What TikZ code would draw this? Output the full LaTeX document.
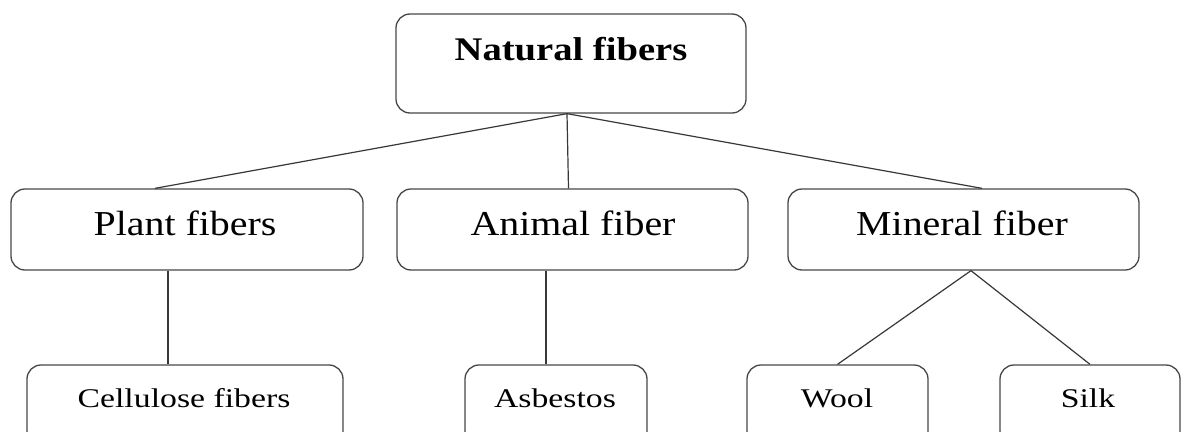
\documentclass[tikz,border=0pt]{standalone}
\usepackage{fontspec}
\usepackage{graphicx}
\setmainfont{Liberation Serif}
\usetikzlibrary{calc}
\tikzset{
  box/.style={draw=black!72, line width=1.3pt, rounded corners=14pt, rectangle, inner sep=0pt},
  conn/.style={draw=black!78, line width=1.2pt},
  lbl/.style={anchor=base, inner sep=0pt, text=black}
}
\newcommand{\topfont}{\fontsize{33}{36}\selectfont\bfseries}
\newcommand{\midfont}{\fontsize{35}{38}\selectfont}
\newcommand{\lowfont}{\fontsize{27}{30}\selectfont}
\begin{document}
\begin{tikzpicture}[x=1pt,y=-1pt]
\useasboundingbox (0,0) rectangle (1183,431);
\clip (0,0) rectangle (1183,431);
\fill[white] (0,0) rectangle (1183,431);
% boxes
\node[box, minimum width=350pt, minimum height=99pt] (top) at (571,63.5) {};
\node[box, minimum width=352pt, minimum height=81pt] (plant) at (187,229.5) {};
\node[box, minimum width=351pt, minimum height=81pt] (animal) at (572.5,229.5) {};
\node[box, minimum width=351pt, minimum height=81pt] (mineral) at (963.5,229.5) {};
\node[box, minimum width=316pt, minimum height=80pt] (cell) at (185,405) {};
\node[box, minimum width=182pt, minimum height=80pt] (asb) at (556,405) {};
\node[box, minimum width=181pt, minimum height=80pt] (wool) at (837.5,405) {};
\node[box, minimum width=180pt, minimum height=80pt] (silk) at (1090,405) {};
% labels
\node[lbl] (ttop) at (571,60) {\scalebox{1.17}[1]{\topfont Natural fibers}};
\node[lbl] (tplant) at (185,235) {\scalebox{1.14}[1]{\midfont Plant fibers}};
\node[lbl] (tanimal) at (573,235) {\scalebox{1.14}[1]{\midfont Animal fiber}};
\node[lbl] (tmineral) at (962,235) {\scalebox{1.14}[1]{\midfont Mineral fiber}};
\node[lbl] (tcell) at (184,407) {\scalebox{1.25}[1]{\lowfont Cellulose fibers}};
\node[lbl] (tasb) at (555,407) {\scalebox{1.25}[1]{\lowfont Asbestos}};
\node[lbl] (twool) at (837,407) {\scalebox{1.25}[1]{\lowfont Wool}};
\node[lbl] (tsilk) at (1088,407) {\scalebox{1.25}[1]{\lowfont Silk}};
% connectors
\coordinate (tb) at ([xshift=-4pt]top.south);
\draw[conn] (tb) -- ([xshift=-32pt]plant.north);
\draw[conn] (tb) -- ([xshift=-4pt]animal.north);
\draw[conn] (tb) -- ([xshift=18.5pt]mineral.north);
\draw[conn] ([xshift=-19pt]plant.south) -- ([xshift=-19pt]plant.south |- cell.north);
\draw[conn] ([xshift=-26.5pt]animal.south) -- ([xshift=-26.5pt]animal.south |- asb.north);
\coordinate (mb) at ([xshift=7.5pt]mineral.south);
\draw[conn] (mb) -- (wool.north);
\draw[conn] (mb) -- (silk.north);
\end{tikzpicture}
\end{document}
